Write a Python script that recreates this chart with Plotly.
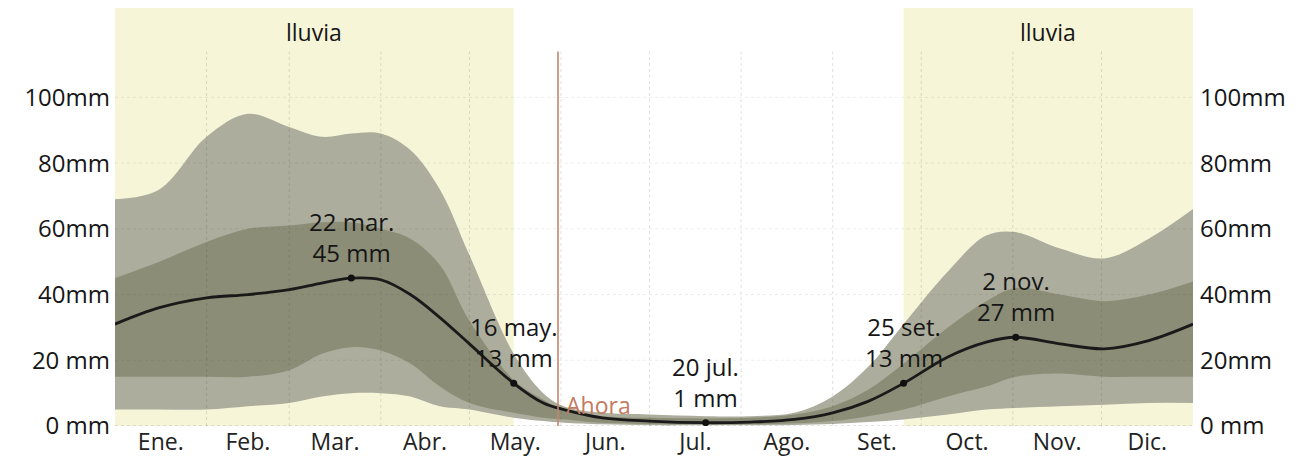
import plotly.graph_objects as go

# ---------------- data ----------------
days = [0, 15, 31, 45, 59, 70, 80, 90, 100, 110, 120, 135, 145, 152, 165, 181,
        200, 215, 230, 243, 255, 267, 282, 295, 305, 320, 335, 350, 365]
p10 = [5, 5, 5, 6, 7, 9, 10, 10, 9, 6, 5, 2.5, 1.5, 1, 0.5, 0.2,
       0.2, 0.2, 0.3, 0.6, 1.2, 2, 3.5, 5, 5.5, 6, 6.5, 7, 7]
p25 = [15, 15, 15, 15, 17, 22, 24, 23, 19, 12, 7, 4, 2.5, 2, 1, 0.6,
       0.5, 0.5, 0.8, 1.5, 3, 5, 9, 12, 15, 16, 15, 15, 15]
median = [31, 36, 39, 40, 41.5, 43.5, 45, 44.5, 40, 33, 25, 13, 7, 5, 2.5, 1.5,
          1, 1.2, 2, 4, 7.5, 13, 21, 25.5, 27, 25, 23.5, 26, 31]
p75 = [45, 50, 56, 60, 61, 62, 62, 60, 57, 49, 32, 14, 8, 5, 3, 2.5,
       2.3, 2.5, 3.5, 6, 11, 19, 30, 38, 42, 40, 38, 40, 44]
p90 = [69, 72, 88, 95, 91, 88, 89, 89, 84, 72, 52, 22, 10, 6, 4, 3.5,
       3, 3, 4, 9, 18, 31, 47, 58, 59, 54, 51, 57, 66]

ann_days = [80, 135, 200, 267, 305]
ann_dates = ["22 mar.", "16 may.", "20 jul.", "25 set.", "2 nov."]
ann_values = [45, 13, 1, 13, 27]

month_names = ["Ene.", "Feb.", "Mar.", "Abr.", "May.", "Jun.", "Jul.", "Ago.",
               "Set.", "Oct.", "Nov.", "Dic."]
month_lengths = [31, 28, 31, 30, 31, 30, 31, 31, 30, 31, 30, 31]

y_ticks = [0, 20, 40, 60, 80, 100]
y_left_text = ["0 mm", "20 mm", "40mm", "60mm", "80mm", "100mm"]
y_right_text = ["0 mm", "20mm", "40mm", "60mm", "80mm", "100mm"]

now_day = 150
season_label = "lluvia"
now_label = "Ahora"

# ---------------- derived ----------------
month_starts = []
acc = 0
for m in month_lengths:
    month_starts.append(acc)
    acc += m
month_mids = [s + l / 2 for s, l in zip(month_starts, month_lengths)]
year_len = acc
wet_end = ann_days[1]
wet_start = ann_days[3]

YMAX = 127.2
GRID_TOP = 114

FONT = "Open Sans"
TXT = "#161616"
OUTER = "#acad9d"
INNER = "#8b8d76"
SEASON = "#f6f5d8"

fig = go.Figure()

fig.add_trace(go.Scatter(x=days, y=p10, mode="lines", line=dict(width=0, shape="spline"),
                         hoverinfo="skip", showlegend=False))
fig.add_trace(go.Scatter(x=days, y=p90, mode="lines", line=dict(width=0, shape="spline"),
                         fill="tonexty", fillcolor=OUTER, hoverinfo="skip", showlegend=False))
fig.add_trace(go.Scatter(x=days, y=p25, mode="lines", line=dict(width=0, shape="spline"),
                         hoverinfo="skip", showlegend=False))
fig.add_trace(go.Scatter(x=days, y=p75, mode="lines", line=dict(width=0, shape="spline"),
                         fill="tonexty", fillcolor=INNER, hoverinfo="skip", showlegend=False))
fig.add_trace(go.Scatter(x=days, y=median, mode="lines",
                         line=dict(width=2.8, color="#1a1a1a", shape="spline"),
                         showlegend=False))
fig.add_trace(go.Scatter(x=ann_days, y=ann_values, mode="markers",
                         marker=dict(size=7, color="#111111"), showlegend=False))

shapes = []
# rainy season shading
for x0, x1 in [(0, wet_end), (wet_start, year_len)]:
    shapes.append(dict(type="rect", xref="x", yref="paper", x0=x0, x1=x1, y0=0, y1=1,
                       fillcolor=SEASON, line=dict(width=0), layer="below"))
# vertical month grid
for s in month_starts[1:]:
    shapes.append(dict(type="line", xref="x", yref="y", x0=s, x1=s, y0=0, y1=GRID_TOP,
                       line=dict(color="rgba(60,60,40,0.16)", width=1, dash="dot"), layer="above"))
# horizontal grid
for t in y_ticks:
    shapes.append(dict(type="line", xref="x", yref="y", x0=0, x1=year_len, y0=t, y1=t,
                       line=dict(color="rgba(60,60,40,0.25)" if t == 0 else "rgba(60,60,40,0.09)",
                                 width=1, dash="dot"), layer="above"))
# now line
shapes.append(dict(type="line", xref="x", yref="y", x0=now_day, x1=now_day, y0=0, y1=GRID_TOP,
                   line=dict(color="#c4866c", width=1.6), layer="above"))

annotations = []
for d, lab, v in zip(ann_days, ann_dates, ann_values):
    annotations.append(dict(x=d, y=v, xref="x", yref="y", text=f"{lab}<br>{v} mm",
                            showarrow=False, yanchor="bottom", yshift=7,
                            font=dict(family=FONT, size=24, color=TXT)))
for cx in [wet_end / 2, (wet_start + year_len) / 2]:
    annotations.append(dict(x=cx, y=1, xref="x", yref="paper", text=season_label,
                            showarrow=False, yanchor="top", yshift=-6,
                            font=dict(family=FONT, size=23, color=TXT)))
annotations.append(dict(x=now_day, y=0, xref="x", yref="y", text=now_label, showarrow=False,
                        xanchor="left", yanchor="bottom", xshift=6, yshift=3,
                        font=dict(family=FONT, size=23, color="#c47a5f")))

fig.update_layout(
    width=1306, height=452,
    margin=dict(l=107, r=121, t=0, b=34, autoexpand=False),
    paper_bgcolor="white", plot_bgcolor="white",
    shapes=shapes, annotations=annotations,
    font=dict(family=FONT, color=TXT),
    xaxis=dict(range=[0, year_len], tickvals=month_mids, ticktext=month_names,
               showgrid=False, zeroline=False, showline=False, ticks="",
               automargin=False,
               tickfont=dict(family=FONT, size=23, color="#222222")),
    yaxis=dict(range=[0, YMAX], tickvals=y_ticks, ticktext=y_left_text,
               showgrid=False, zeroline=False, showline=False, ticks="",
               automargin=False, ticklabelstandoff=4,
               tickfont=dict(family=FONT, size=24, color=TXT)),
    yaxis2=dict(range=[0, YMAX], tickvals=y_ticks, ticktext=y_right_text,
                overlaying="y", side="right", showgrid=False, zeroline=False,
                showline=False, ticks="", automargin=False, ticklabelstandoff=6,
                tickfont=dict(family=FONT, size=24, color=TXT)),
)
# invisible trace so yaxis2 is shown
fig.add_trace(go.Scatter(x=[0], y=[0], yaxis="y2", mode="markers",
                         marker=dict(opacity=0), hoverinfo="skip", showlegend=False))

fig.write_html("out.html")
